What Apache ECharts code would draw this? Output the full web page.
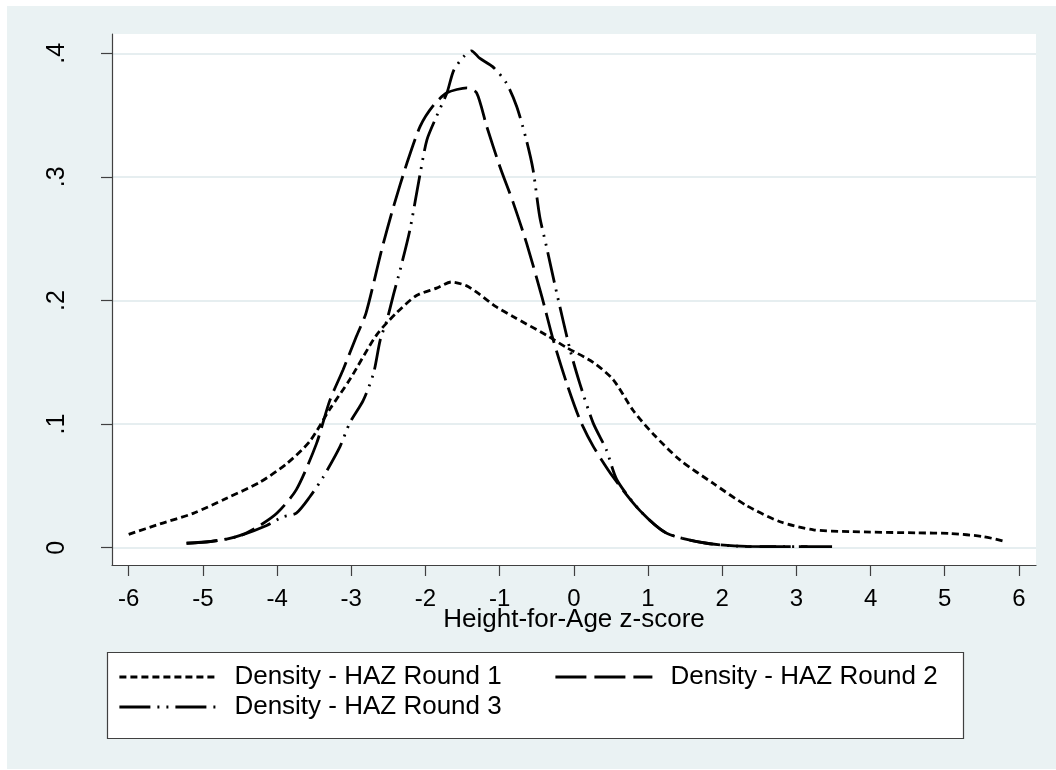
<!DOCTYPE html>
<html>
<head>
<meta charset="utf-8">
<script src="https://cdn.jsdelivr.net/npm/echarts@6/dist/echarts.min.js"></script>
<style>
  html, body { margin: 0; padding: 0; background: #ffffff; }
  #main { position: absolute; left: 7px; top: 6px; width: 1049px; height: 763px; background: #eaf2f3; }
</style>
</head>
<body>
<div id="main"></div>
<script>
// ---- data ----
const seriesNames = ['Density - HAZ Round 1', 'Density - HAZ Round 2', 'Density - HAZ Round 3'];
const xTicks = [-6, -5, -4, -3, -2, -1, 0, 1, 2, 3, 4, 5, 6];
const yTicks = [0, 0.1, 0.2, 0.3, 0.4];
const xTitle = 'Height-for-Age z-score';

const r1x = [-6.00, -5.58, -5.13, -4.68, -4.23, -3.87, -3.56, -3.29, -3.02, -2.66, -2.39, -2.12, -1.85, -1.65, -1.45, -1.27, -1.05, -0.82, -0.37, -0.10, 0.26, 0.53, 0.80, 1.07, 1.43, 1.88, 2.33, 2.78, 3.23, 3.72, 4.62, 5.07, 5.52, 5.78];
const r1y = [0.0108, 0.0192, 0.0278, 0.040, 0.053, 0.068, 0.086, 0.112, 0.136, 0.172, 0.190, 0.204, 0.210, 0.215, 0.212, 0.205, 0.195, 0.187, 0.172, 0.162, 0.150, 0.136, 0.111, 0.092, 0.071, 0.052, 0.034, 0.021, 0.0145, 0.013, 0.012, 0.0115, 0.009, 0.0055];

const r2x = [-5.22, -4.90, -4.68, -4.45, -4.23, -4.00, -3.74, -3.47, -3.29, -3.11, -2.93, -2.80, -2.59, -2.43, -2.25, -2.07, -1.89, -1.71, -1.44, -1.31, -1.175, -0.995, -0.816, -0.635, -0.43, -0.277, -0.096, 0.085, 0.262, 0.532, 0.892, 1.252, 1.79, 2.33, 2.80, 3.15];
const r2y = [0.0036, 0.005, 0.007, 0.011, 0.018, 0.028, 0.047, 0.084, 0.119, 0.144, 0.171, 0.190, 0.241, 0.276, 0.311, 0.341, 0.358, 0.368, 0.372, 0.368, 0.341, 0.308, 0.279, 0.246, 0.203, 0.168, 0.133, 0.103, 0.082, 0.057, 0.030, 0.0117, 0.0036, 0.001, 0.0008, 0.0008];

const r3x = [-5.22, -4.90, -4.54, -4.14, -3.92, -3.74, -3.56, -3.38, -3.15, -3.02, -2.84, -2.70, -2.61, -2.52, -2.43, -2.34, -2.21, -2.07, -1.98, -1.85, -1.71, -1.62, -1.49, -1.38, -1.27, -1.09, -0.91, -0.77, -0.64, -0.55, -0.46, -0.37, -0.23, -0.05, 0.08, 0.26, 0.44, 0.58, 0.892, 1.252, 1.79, 2.33, 3.00, 3.55];
const r3y = [0.0036, 0.005, 0.0089, 0.018, 0.025, 0.028, 0.041, 0.057, 0.082, 0.101, 0.119, 0.141, 0.168, 0.184, 0.205, 0.225, 0.257, 0.303, 0.330, 0.349, 0.368, 0.386, 0.397, 0.402, 0.396, 0.389, 0.376, 0.357, 0.330, 0.306, 0.268, 0.244, 0.206, 0.160, 0.133, 0.101, 0.079, 0.055, 0.030, 0.0117, 0.0036, 0.001, 0.0008, 0.0008];

// ---- chart ----
const zip = (xs, ys) => xs.map((x, i) => [x, ys[i]]);
const FONT = '"Liberation Sans", Arial, Helvetica, sans-serif';
const AXIS_COLOR = '#404040';
const dashes = [[7, 4], [31, 8], [31, 7, 2, 7, 2, 7]];
const seriesData = [zip(r1x, r1y), zip(r2x, r2y), zip(r3x, r3y)];

const chart = echarts.init(document.getElementById('main'), null, { renderer: 'canvas' });

const legendBase = {
  orient: 'horizontal',
  padding: 0,
  itemWidth: 97,
  itemHeight: 14,
  selectedMode: false,
  itemStyle: { opacity: 0 },
  lineStyle: { width: 2.8 },
  textStyle: { fontFamily: FONT, fontSize: 26, color: '#000', lineHeight: 30, padding: [0, 0, 0, 13] }
};

chart.setOption({
  animation: false,
  backgroundColor: 'transparent',
  grid: {
    left: 105, top: 28, width: 924, height: 531,
    show: true, backgroundColor: '#ffffff', borderWidth: 0,
    containLabel: false
  },
  xAxis: {
    type: 'value',
    min: -6.225, max: 6.23,
    name: xTitle,
    nameLocation: 'middle',
    nameGap: 42,
    nameMoveOverlap: false,
    nameTextStyle: { fontFamily: FONT, fontSize: 26, color: '#000', lineHeight: 26 },
    axisLine: { show: true, onZero: false, lineStyle: { color: AXIS_COLOR, width: 1.2 } },
    axisTick: { show: true, length: 11, inside: false, customValues: xTicks, lineStyle: { color: AXIS_COLOR, width: 1.2 } },
    axisLabel: {
      customValues: xTicks, margin: 23, fontFamily: FONT, fontSize: 24, lineHeight: 23, color: '#000',
      formatter: v => String(v)
    },
    splitLine: { show: false }
  },
  yAxis: {
    type: 'value',
    min: -0.014, max: 0.4156,
    axisLine: { show: true, onZero: false, lineStyle: { color: AXIS_COLOR, width: 1.2 } },
    axisTick: { show: true, length: 11, inside: false, customValues: yTicks, lineStyle: { color: AXIS_COLOR, width: 1.2 } },
    axisLabel: {
      customValues: yTicks, rotate: 90, margin: 42, fontFamily: FONT, fontSize: 25, lineHeight: 25, color: '#000',
      formatter: v => (Math.abs(v) < 1e-9 ? '0' : String(Math.round(v * 10) / 10).replace(/^0\./, '.'))
    },
    splitLine: { show: true, lineStyle: { color: '#e6eef0', width: 2 } }
  },
  legend: [
    Object.assign({}, legendBase, { data: [seriesNames[0]], left: 111, top: 656 }),
    Object.assign({}, legendBase, { data: [seriesNames[1]], left: 547, top: 656 }),
    Object.assign({}, legendBase, { data: [seriesNames[2]], left: 111, top: 686 })
  ],
  graphic: [{
    type: 'rect', z: 0, silent: true,
    shape: { x: 100.5, y: 646.5, width: 856, height: 86 },
    style: { fill: '#ffffff', stroke: AXIS_COLOR, lineWidth: 1.2 }
  }],
  series: seriesNames.map((name, i) => ({
    name: name,
    type: 'line',
    data: seriesData[i],
    symbol: 'none',
    showSymbol: false,
    smooth: 0.25,
    lineStyle: { color: '#000000', width: 2.8, type: dashes[i], cap: 'butt' },
    itemStyle: { color: '#000000' },
    z: 3 + i
  }))
});
</script>
</body>
</html>
